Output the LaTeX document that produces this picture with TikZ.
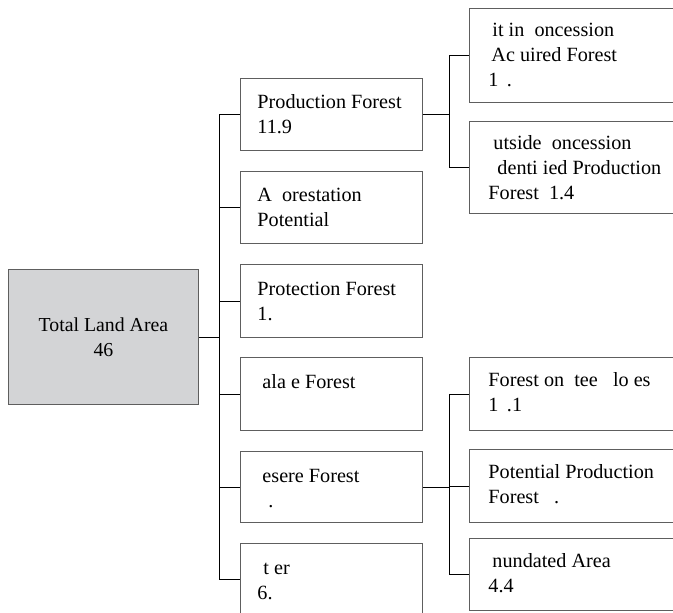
\documentclass[tikz,border=0pt]{standalone}
\usepackage{fontspec}
\setmainfont{Liberation Serif}
\definecolor{boxgray}{HTML}{5E5E5E}
\definecolor{rootfill}{HTML}{D3D4D6}
% text block of a box: width, height, left indent, first baseline, lines
\newcommand\cellbody[5]{\parbox[b][#2][t]{#1}{\fontsize{20.2}{25}\selectfont
  \raggedright\leftskip=#3\rule{0pt}{#4}#5}}
\tikzset{
  x=1pt, y=-1pt,
  cell/.style={draw=boxgray, line width=0.9pt, inner sep=0pt, anchor=north west},
  root/.style={cell, fill=rootfill, minimum width=190pt, minimum height=135pt,
    align=center, font=\fontsize{19.8}{25}\selectfont},
  link/.style={draw=black, line width=0.8pt},
}
\begin{document}
\begin{tikzpicture}
\useasboundingbox (0,0) rectangle (673,613);
\clip (0,0) rectangle (673,613);

% root
\node[root] (total) at (8,269) {Total Land Area\\46};

% second level
\node[cell] (prod) at (240,78)  {\cellbody{182pt}{72pt}{17pt}{30pt}{Production Forest\\11.9}};
\node[cell] (affo) at (240,171) {\cellbody{182pt}{72pt}{17pt}{30pt}{A\ \ orestation\\Potential}};
\node[cell] (prot) at (240,264) {\cellbody{182pt}{73pt}{17pt}{31pt}{Protection Forest\\1.}};
\node[cell] (salv) at (240,357) {\cellbody{182pt}{73pt}{17pt}{31pt}{\hspace*{5pt}ala e Forest}};
\node[cell] (resv) at (240,451) {\cellbody{182pt}{71pt}{17pt}{31pt}{\hspace*{5pt}esere Forest\\\hspace*{11pt}.}};
\node[cell] (othr) at (240,543) {\cellbody{182pt}{72pt}{17pt}{31pt}{\hspace*{6pt}t er\\6.}};

% third level under production forest
\node[cell] (conc) at (469,8)   {\cellbody{230pt}{94pt}{19pt}{28pt}{\hspace*{4pt}it in\ \ oncession\\\hspace*{3pt}Ac uired Forest\\1\ \,.}};
\node[cell] (outs) at (469,121) {\cellbody{230pt}{92pt}{19pt}{28pt}{\hspace*{5pt}utside\ \ oncession\\\hspace*{9pt}denti ied Production\\Forest\ \ 1.4}};

% third level under reserve forest
\node[cell] (stee) at (469,357) {\cellbody{230pt}{73pt}{19pt}{29pt}{Forest on\ \ tee\ \ \ lo es\\1\ \,.1}};
\node[cell] (potp) at (469,449) {\cellbody{230pt}{73pt}{19pt}{29pt}{Potential Production\\Forest\ \ \ .}};
\node[cell] (inun) at (469,538) {\cellbody{230pt}{72pt}{19pt}{29pt}{\hspace*{4pt}nundated Area\\4.4}};

% trunks
\coordinate (tk) at (219,0);
\coordinate (tp) at (449,0);
\coordinate (tr) at (449,0);

\draw[link] (total.east) -- (total.east -| tk);
\draw[link] (prod.west -| tk) -- (othr.west -| tk);
\foreach \n in {prod,affo,prot,salv,resv,othr}
  \draw[link] (\n.west -| tk) -- (\n.west);

\draw[link] (prod.east) -- (prod.east -| tp);
\draw[link] (conc.west -| tp) -- (outs.west -| tp);
\foreach \n in {conc,outs}
  \draw[link] (\n.west -| tp) -- (\n.west);

\draw[link] (resv.east) -- (resv.east -| tr);
\draw[link] (stee.west -| tr) -- (inun.west -| tr);
\foreach \n in {stee,potp,inun}
  \draw[link] (\n.west -| tr) -- (\n.west);
\end{tikzpicture}
\end{document}
